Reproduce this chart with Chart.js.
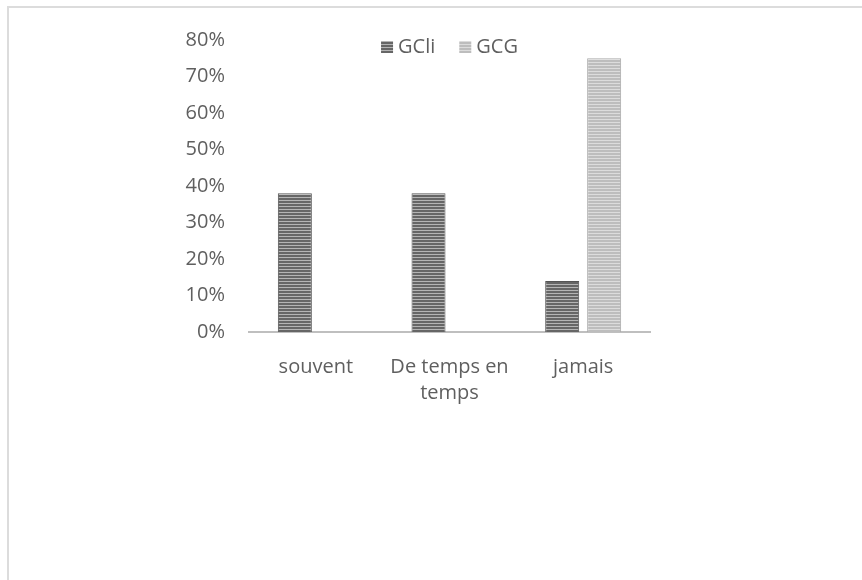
<!DOCTYPE html>
<html>
<head>
<meta charset="utf-8">
<script src="https://cdn.jsdelivr.net/npm/chart.js@4/dist/chart.umd.min.js"></script>
<style>
  html, body { margin: 0; padding: 0; background: #fff; }
  body { width: 862px; height: 580px; position: relative; overflow: hidden; }
  #frame { position: absolute; left: 7px; top: 6px; right: 0; bottom: 0;
           border-top: 2px solid #dcdcdc; border-left: 2px solid #dcdcdc; }
  #wrap { position: absolute; left: 0; top: 0; width: 862px; height: 580px; }
</style>
</head>
<body>
<div id="frame"></div>
<div id="wrap"><canvas id="chart"></canvas></div>
<script>
const categories = ["souvent", ["De temps en", "temps"], "jamais"];
const seriesNames = ["GCli", "GCG"];
const gcliValues = [38, 38, 14];
const gcgValues = [0, 0, 75];
const yTicks = [0, 10, 20, 30, 40, 50, 60, 70, 80];

// horizontal striped fill, like the scanned hatching
function stripes(dark, light) {
  const c = document.createElement("canvas");
  c.width = 4; c.height = 3;
  const g = c.getContext("2d");
  g.fillStyle = light; g.fillRect(0, 0, 4, 3);
  g.fillStyle = dark; g.fillRect(0, 0, 4, 2);
  return g.createPattern(c, "repeat");
}

const gcliFill = stripes("#666666", "#b4b4b4");
const gcgFill = stripes("#bdbdbd", "#dcdcdc");
const textColor = "#5f5f5f";
const fontFamily = "'Open Sans', sans-serif";

// legend drawn inside the plot area, near the top
const legendInside = {
  id: "legendInside",
  afterDraw(chart) {
    const ctx = chart.ctx;
    const area = chart.chartArea;
    ctx.save();
    ctx.font = "20px " + fontFamily;
    ctx.textBaseline = "middle";
    const box = 12, gapText = 5, gapItem = 24;
    const items = chart.data.datasets.map(ds => ({
      label: ds.label, fill: ds.backgroundColor,
      w: box + gapText + ctx.measureText(ds.label).width
    }));
    const total = items.reduce((s, it) => s + it.w, 0) + gapItem * (items.length - 1);
    let x = (area.left + area.right) / 2 - total / 2;
    const y = area.top + 7;
    items.forEach(it => {
      ctx.fillStyle = it.fill;
      ctx.fillRect(x, y - box / 2, box, box);
      ctx.fillStyle = textColor;
      ctx.fillText(it.label, x + box + gapText, y);
      x += it.w + gapItem;
    });
    ctx.restore();
  }
};

new Chart(document.getElementById("chart"), {
  type: "bar",
  data: {
    labels: categories,
    datasets: [
      {
        label: seriesNames[0],
        data: gcliValues,
        backgroundColor: gcliFill,
        borderColor: "#555",
        borderWidth: { left: 1, right: 1, top: 1, bottom: 0 },
        categoryPercentage: 0.628,
        barPercentage: 0.81
      },
      {
        label: seriesNames[1],
        data: gcgValues,
        backgroundColor: gcgFill,
        borderColor: "#a8a8a8",
        borderWidth: { left: 1, right: 1, top: 1, bottom: 0 },
        categoryPercentage: 0.628,
        barPercentage: 0.81
      }
    ]
  },
  options: {
    responsive: true,
    maintainAspectRatio: false,
    animation: false,
    layout: { padding: { left: 160, right: 212, top: 40, bottom: 148 } },
    plugins: {
      legend: { display: false },
      tooltip: { enabled: false }
    },
    scales: {
      x: {
        grid: { display: false },
        border: { display: true, color: "#bfbfbf", width: 2 },
        ticks: {
          color: textColor,
          font: { family: fontFamily, size: 20, lineHeight: 1.3 },
          padding: 14,
          maxRotation: 0,
          autoSkip: false
        },
        afterFit(scale) { scale.height = 100; }
      },
      y: {
        min: 0,
        max: 80,
        grid: { display: false },
        border: { display: false },
        afterBuildTicks(scale) { scale.ticks = yTicks.map(v => ({ value: v })); },
        ticks: {
          color: textColor,
          font: { family: fontFamily, size: 20 },
          padding: 16,
          callback: v => v + "%"
        },
        afterFit(scale) { scale.width = 89; }
      }
    }
  },
  plugins: [legendInside]
});
</script>
</body>
</html>
